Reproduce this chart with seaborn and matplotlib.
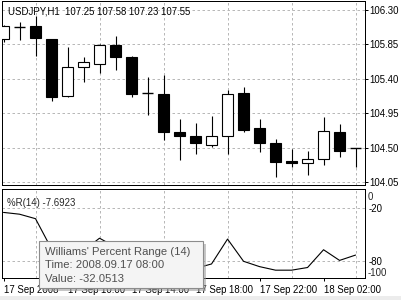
import matplotlib
matplotlib.use("Agg")
import matplotlib.pyplot as plt
from matplotlib.patches import Rectangle
import seaborn as sns
import pandas as pd
import numpy as np

# ---------------- data ----------------
times = ["06:00", "07:00", "08:00", "09:00", "10:00", "11:00", "12:00", "13:00",
         "14:00", "15:00", "16:00", "17:00", "18:00", "19:00", "20:00", "21:00",
         "22:00", "23:00", "00:00", "01:00", "02:00", "03:00", "04:00"]
opens = [105.92, 106.08, 106.09, 105.915, 105.18, 105.55, 105.60, 105.84,
         105.68, 105.21, 105.20, 104.71, 104.655, 104.54, 104.66, 105.22,
         104.755, 104.56, 104.33, 104.305, 104.35, 104.71, 104.50]
highs = [106.10, 106.145, 106.22, 105.92, 105.82, 105.68, 105.86, 105.96,
         105.70, 105.43, 105.45, 104.87, 104.83, 104.915, 105.255, 105.30,
         104.88, 104.61, 104.49, 104.46, 104.90, 104.81, 104.50]
lows = [105.88, 105.90, 105.70, 105.115, 105.16, 105.36, 105.47, 105.515,
        105.16, 104.93, 104.60, 104.34, 104.42, 104.51, 104.42, 104.71,
        104.45, 104.117, 104.245, 104.15, 104.28, 104.38, 104.25]
closes = [106.09, 106.08, 105.93, 105.167, 105.56, 105.615, 105.84, 105.69,
          105.20, 105.21, 104.71, 104.66, 104.56, 104.66, 105.20, 104.73,
          104.57, 104.32, 104.30, 104.36, 104.72, 104.46, 104.50]
wpr = [-25, -27, -32.05, -66, -70, -68, -54, -64, -90, -89, -96, -91, -88,
       -83, -55, -80, -86, -90, -90, -87, -67, -79, -73]

price_ticks = [104.05, 104.50, 104.95, 105.40, 105.85, 106.30]
wpr_ticks = [-20, -80]
time_labels = ["17 Sep 2008", "17 Sep 10:00", "17 Sep 14:00",
               "17 Sep 18:00", "17 Sep 22:00", "18 Sep 02:00"]
header = "USDJPY,H1  107.25 107.58 107.23 107.55"
ind_header = "%R(14) -7.6923"
tip_lines = ["Williams' Percent Range (14)", "Time: 2008.09.17 08:00",
             "Value: -32.0513"]

df = pd.DataFrame({"t": np.arange(len(times)), "open": opens, "high": highs,
                   "low": lows, "close": closes, "wpr": wpr})

# ---------------- style ----------------
sns.set_theme(style="white")
plt.rcParams["font.family"] = ["Liberation Sans", "DejaVu Sans"]
plt.rcParams["axes.edgecolor"] = "black"
plt.rcParams["axes.linewidth"] = 0.72

W, H = 402, 300
fig = plt.figure(figsize=(W / 100, H / 100), dpi=100)
fig.patch.set_facecolor("white")

def fx(px):
    return px / W

def fy(py):
    return 1 - py / H

ax = fig.add_axes([fx(2), fy(185), fx(365) - fx(2), fy(1) - fy(185)])
ax2 = fig.add_axes([fx(2), fy(278), fx(365) - fx(2), fy(189) - fy(278)], sharex=ax)

grid_kw = dict(color="#b8b8b8", linewidth=0.72, linestyle=(0, (2.5, 2.5)))
lw = 0.8
bw = 0.66

# ---------------- candles ----------------
for _, r in df.iterrows():
    x = r["t"]
    ax.vlines(x, r["low"], r["high"], color="black", linewidth=lw, zorder=3)
    o, c = r["open"], r["close"]
    if abs(c - o) < 0.004:
        ax.hlines(o, x - bw / 2, x + bw / 2, color="black", linewidth=lw + 0.2, zorder=4)
    else:
        face = "white" if c > o else "black"
        ax.bar(x, abs(c - o), bottom=min(o, c), width=bw, color=face,
               edgecolor="black", linewidth=lw, zorder=4)

ax.set_xlim(-0.094, 22.59)
ax.set_ylim(104.016, 106.415)
ax.yaxis.tick_right()
ax.set_yticks(price_ticks)
ax.set_yticklabels([f"{v:.2f}" for v in price_ticks])
ax.tick_params(axis="y", which="major", right=True, left=False, length=2.3, width=0.72,
               pad=0.8, labelsize=6.9, colors="black", direction="out")
ax.set_xticks(np.arange(0, 23, 2), minor=True)
ax.tick_params(axis="x", which="both", bottom=False, labelbottom=False, length=0)
ax.grid(axis="y", which="major", **grid_kw)
ax.grid(axis="x", which="minor", **grid_kw)
ax.set_axisbelow(True)
for s in ax.spines.values():
    s.set_visible(True)
    s.set_color("black")
    s.set_linewidth(0.72)

ax.text(fx(8), fy(11), header, transform=fig.transFigure, fontsize=6.9,
        va="center", ha="left", color="black")

# ---------------- Williams %R ----------------
sns.lineplot(data=df, x="t", y="wpr", ax=ax2, color="black", linewidth=0.8,
             legend=False, zorder=3)
ax2.set_xlabel("")
ax2.set_ylabel("")
ax2.set_ylim(-98.8, 1.35)
ax2.yaxis.tick_right()
ax2.set_yticks(wpr_ticks)
ax2.set_yticklabels([f"{v:d}" for v in wpr_ticks])
ax2.tick_params(axis="y", which="major", right=True, left=False, length=0, pad=2.3,
                labelsize=6.9, colors="black")
ax2.set_xticks(np.arange(0, 23, 4))
ax2.set_xticklabels(time_labels)
ax2.set_xticks(np.arange(0, 23, 2), minor=True)
ax2.tick_params(axis="x", which="major", bottom=True, length=2.3, width=0.72,
                pad=2.5, labelsize=6.9, colors="black", direction="out")
ax2.tick_params(axis="x", which="minor", bottom=False, length=0)
for lab in ax2.get_xticklabels():
    lab.set_ha("left")
ax2.grid(axis="y", which="major", **grid_kw)
ax2.grid(axis="x", which="minor", **grid_kw)
ax2.set_axisbelow(True)
for s in ax2.spines.values():
    s.set_visible(True)
    s.set_color("black")
    s.set_linewidth(0.72)

fig.text(fx(368), fy(196.5), "0", fontsize=6.9, va="center", ha="left")
fig.text(fx(368), fy(273.5), "-100", fontsize=6.9, va="center", ha="left")
fig.text(fx(7), fy(203.5), ind_header, fontsize=6.9, va="center", ha="left")

# bottom strip
fig.patches.append(Rectangle((0, 0), 1, 4 / H, transform=fig.transFigure,
                             facecolor="#ececec", edgecolor="none", zorder=0))

# ---------------- tooltip ----------------
tx0, ty0, tx1, ty1 = 39, 241, 203, 288
fig.patches.append(Rectangle((fx(tx0 + 3), fy(ty1 + 3)), fx(tx1 - tx0), fy(ty0) - fy(ty1),
                             transform=fig.transFigure, facecolor="#9a9a9a",
                             edgecolor="none", alpha=0.55, zorder=20))
fig.patches.append(Rectangle((fx(tx0), fy(ty1)), fx(tx1 - tx0), fy(ty0) - fy(ty1),
                             transform=fig.transFigure, facecolor="#f4f4f4",
                             edgecolor="#8c8c8c", linewidth=0.8, zorder=21))
for k, line in enumerate(tip_lines):
    fig.text(fx(45), fy(252 + 13.5 * k), line, fontsize=8.1, color="#505050",
             va="center", ha="left", zorder=22)

fig.savefig("out.png", dpi=100)
